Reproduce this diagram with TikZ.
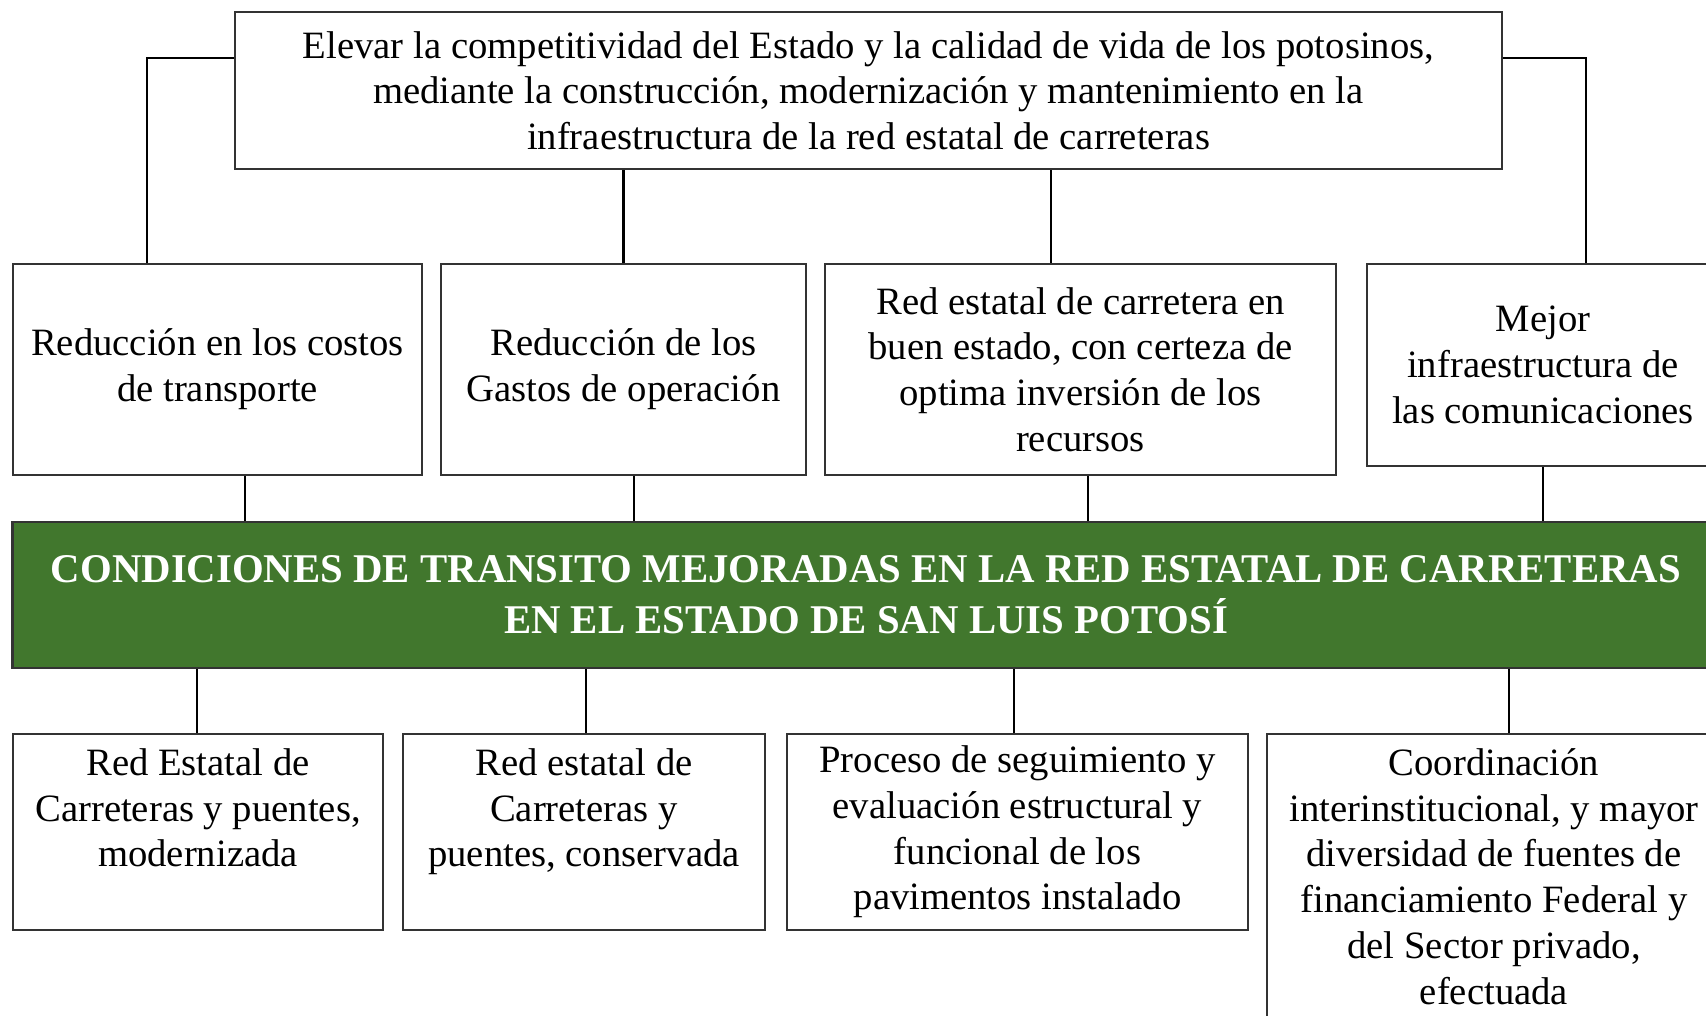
\documentclass[tikz,border=0pt]{standalone}
\usepackage{fontspec}
\setmainfont{Liberation Serif}
\definecolor{leafgreen}{HTML}{41772D}
\begin{document}
\begin{tikzpicture}
  [x=0.01cm,y=-0.01cm
  ,box/.style={rectangle,draw=black!80,line width=0.6pt,align=center,inner sep=0pt,font=\fontsize{11}{13}\selectfont}
  ,toptext/.style={anchor=north,align=center,inner sep=0pt,yshift=-0.15cm,font=\fontsize{11}{13}\selectfont}
  ,goal/.style={box,fill=leafgreen,text=white,font=\fontsize{11.6}{14.5}\selectfont\bfseries}
  ,link/.style={draw=black,line width=0.7pt}]
\useasboundingbox (0,0) rectangle (1706,1016);
\clip (0,0) rectangle (1706,1016);
\node at (868.5,90.5) (fin) [box,minimum width=12.67cm,minimum height=1.57cm]
  {Elevar la competitividad del Estado y la calidad de vida de los potosinos,\\
   mediante la construcción, modernización y mantenimiento en la\\
   infraestructura de la red estatal de carreteras};
\node at (217.5,369.5) (efA) [box,minimum width=4.09cm,minimum height=2.11cm]
  {Reducción en los costos\\de transporte};
\node at (623.5,369.5) (efB) [box,minimum width=3.65cm,minimum height=2.11cm]
  {Reducción de los\\Gastos de operación};
\node at (1080.5,369.5) (efC) [box,minimum width=5.11cm,minimum height=2.11cm]
  {Red estatal de carretera en\\buen estado, con certeza de\\optima inversión de los\\recursos};
\node at (1543,365) (efD) [box,minimum width=3.52cm,minimum height=2.02cm]
  {Mejor\\infraestructura de\\las comunicaciones};
\node at (866,595) (problema) [goal,minimum width=17.06cm,minimum height=1.46cm]
  {CONDICIONES DE TRANSITO MEJORADAS EN LA RED ESTATAL DE CARRETERAS\\
   EN EL ESTADO DE SAN LUIS POTOSÍ};
\node at (198,832) (compA) [box,minimum width=3.70cm,minimum height=1.96cm,
  label={[toptext]north:{Red Estatal de\\Carreteras y puentes,\\modernizada}}] {};
\node at (584,832) (compB) [box,minimum width=3.62cm,minimum height=1.96cm,
  label={[toptext]north:{Red estatal de\\Carreteras y\\puentes, conservada}}] {};
\node at (1017.5,832) (compC) [box,minimum width=4.61cm,minimum height=1.96cm]
  {Proceso de seguimiento y\\evaluación estructural y\\funcional de los\\pavimentos instalado};
\node at (1494,887) (compD) [box,minimum width=4.54cm,minimum height=3.06cm,
  label={[toptext]north:{Coordinación\\interinstitucional, y mayor\\diversidad de fuentes de\\financiamiento Federal y\\del Sector privado,\\efectuada}}] {};
%
\draw [link] (fin.west |- 0,58) -| (efA.north -| 147,0);
\draw [link] (fin.east |- 0,58) -| (efD.north -| 1586,0);
\draw [link] (fin.south -| efB.north) -- (efB.north);
\draw [link] (fin.south -| 1051,0) -- (efC.north -| 1051,0);
%
\draw [link] (efA.south -| 245,0) -- (problema.north -| 245,0);
\draw [link] (efB.south -| 634,0) -- (problema.north -| 634,0);
\draw [link] (efC.south -| 1088,0) -- (problema.north -| 1088,0);
\draw [link] (efD.south) -- (problema.north -| efD.south);
%
\draw [link] (problema.south -| 197,0) -- (compA.north -| 197,0);
\draw [link] (problema.south -| 586,0) -- (compB.north -| 586,0);
\draw [link] (problema.south -| 1014,0) -- (compC.north -| 1014,0);
\draw [link] (problema.south -| 1509,0) -- (compD.north -| 1509,0);
\end{tikzpicture}
\end{document}
